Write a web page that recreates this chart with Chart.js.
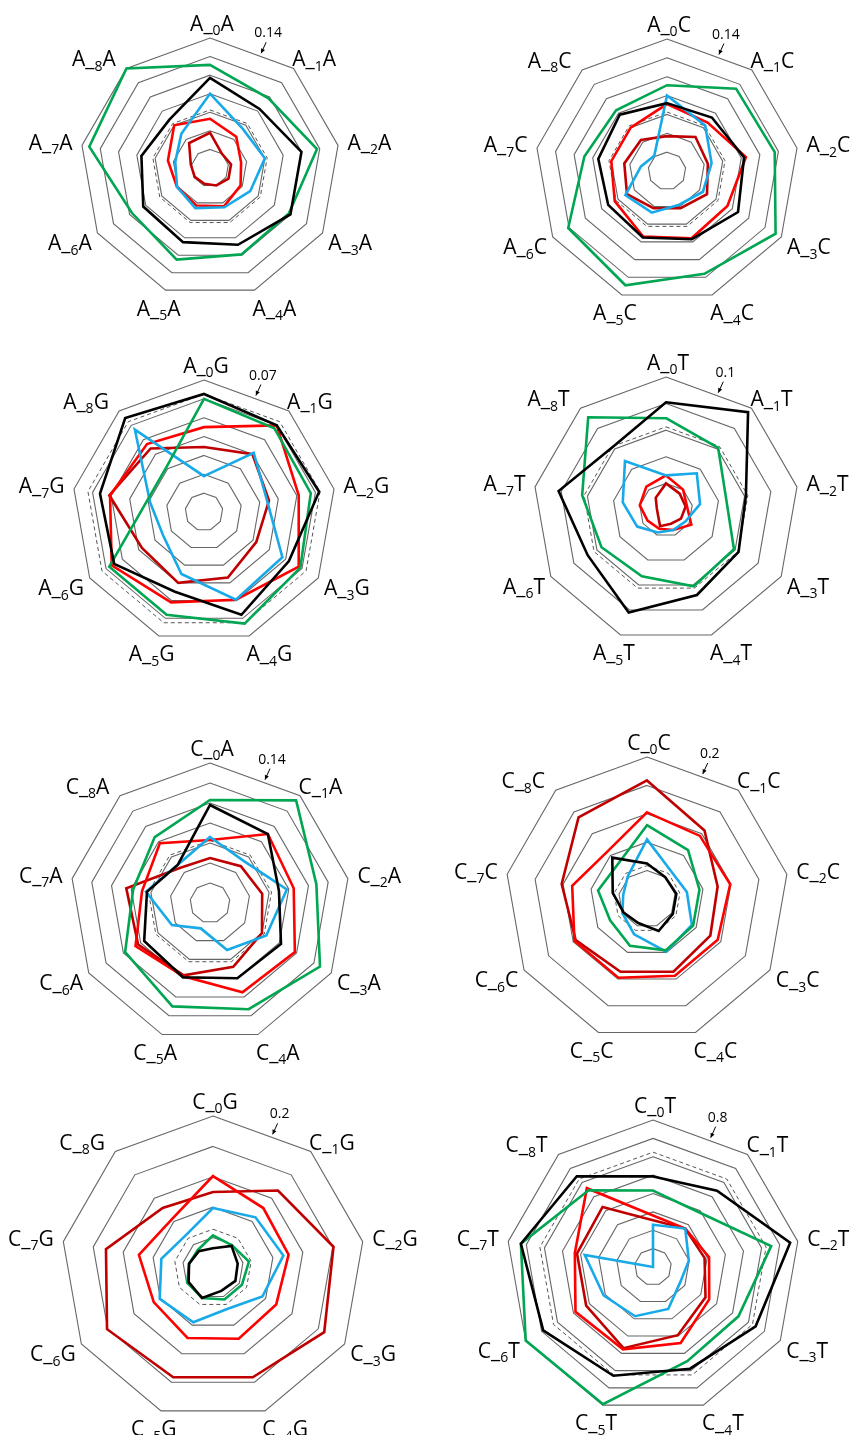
<!DOCTYPE html>
<html>
<head>
<meta charset="utf-8">
<script src="https://cdn.jsdelivr.net/npm/chart.js@4.4.1/dist/chart.umd.min.js"></script>
<style>
  html, body { margin: 0; padding: 0; background: #ffffff; overflow: hidden; }
  #wrap { position: relative; width: 860px; height: 1435px; overflow: hidden; background: #ffffff; }
  #wrap canvas { position: absolute; }
</style>
</head>
<body>
<div id="wrap"></div>
<script>
// Positions 0..8 around every radar
const positions = [0, 1, 2, 3, 4, 5, 6, 7, 8];
function axisLabels(first, second) {
  return positions.map(p => `${first}_${p}${second}`);
}

// ---- A_A ----
const AA_black   = [0.097, 0.083, 0.100, 0.100, 0.088, 0.085, 0.083, 0.075, 0.068];
const AA_green   = [0.111, 0.098, 0.117, 0.098, 0.099, 0.105, 0.097, 0.132, 0.140];
const AA_blue    = [0.080, 0.055, 0.060, 0.050, 0.045, 0.046, 0.041, 0.038, 0.048];
const AA_red     = [0.053, 0.044, 0.034, 0.038, 0.044, 0.043, 0.041, 0.046, 0.060];
const AA_darkred = [0.038, 0.020, 0.023, 0.023, 0.020, 0.018, 0.019, 0.021, 0.035];
const AA_ref = 0.0625;

// ---- A_C ----
const AC_black   = [0.072, 0.074, 0.083, 0.087, 0.077, 0.075, 0.072, 0.074, 0.078];
const AC_green   = [0.091, 0.114, 0.116, 0.133, 0.116, 0.129, 0.121, 0.089, 0.084];
const AC_blue    = [0.080, 0.063, 0.048, 0.044, 0.038, 0.047, 0.051, 0.028, 0.021];
const AC_red     = [0.071, 0.067, 0.085, 0.074, 0.076, 0.074, 0.064, 0.060, 0.060];
const AC_darkred = [0.037, 0.047, 0.044, 0.049, 0.042, 0.042, 0.049, 0.046, 0.043];
const AC_ref = 0.0625;

// ---- A_G ----
const AG_black   = [0.0626, 0.060, 0.062, 0.052, 0.058, 0.045, 0.055, 0.056, 0.065];
const AG_green   = [0.060, 0.058, 0.0575, 0.059, 0.063, 0.058, 0.058, 0.031, 0.031];
const AG_blue    = [0.019, 0.041, 0.034, 0.048, 0.0495, 0.035, 0.025, 0.029, 0.057];
const AG_red     = [0.045, 0.060, 0.051, 0.058, 0.0495, 0.051, 0.0565, 0.0506, 0.047];
const AG_darkred = [0.0345, 0.040, 0.035, 0.032, 0.037, 0.040, 0.038, 0.051, 0.044];
const AG_ref = 0.0625;

// ---- A_T ----
const AT_black   = [0.081, 0.096, 0.061, 0.063, 0.068, 0.082, 0.068, 0.082, 0.062];
const AT_green   = [0.069, 0.061, 0.046, 0.059, 0.061, 0.053, 0.056, 0.064, 0.091];
const AT_blue    = [0.026, 0.036, 0.026, 0.017, 0.016, 0.018, 0.025, 0.033, 0.048];
const AT_red     = [0.026, 0.020, 0.016, 0.022, 0.016, 0.015, 0.016, 0.020, 0.023];
const AT_darkred = [0.020, 0.016, 0.015, 0.013, 0.011, 0.013, 0.007, 0.007, 0.012];
const AT_ref = 0.0625;

// ---- C_A ----
const CA_black   = [0.098, 0.090, 0.070, 0.082, 0.080, 0.079, 0.076, 0.064, 0.050];
const CA_green   = [0.103, 0.134, 0.108, 0.127, 0.113, 0.110, 0.098, 0.078, 0.086];
const CA_blue    = [0.066, 0.054, 0.078, 0.065, 0.050, 0.027, 0.044, 0.065, 0.050];
const CA_red     = [0.063, 0.090, 0.085, 0.098, 0.095, 0.078, 0.086, 0.069, 0.078];
const CA_darkred = [0.045, 0.048, 0.053, 0.060, 0.068, 0.077, 0.083, 0.085, 0.046];
const CA_ref = 0.0625;

// ---- C_C ----
const CC_black   = [0.050, 0.040, 0.042, 0.042, 0.048, 0.036, 0.038, 0.049, 0.076];
const CC_green   = [0.104, 0.090, 0.075, 0.075, 0.077, 0.070, 0.060, 0.070, 0.064];
const CC_blue    = [0.084, 0.052, 0.057, 0.073, 0.079, 0.053, 0.040, 0.034, 0.042];
const CC_red     = [0.122, 0.116, 0.119, 0.115, 0.115, 0.118, 0.118, 0.107, 0.087];
const CC_darkred = [0.167, 0.126, 0.101, 0.103, 0.109, 0.109, 0.116, 0.122, 0.150];
const CC_ref = 0.047;

// ---- C_G ----
const CG_black   = [0.026, 0.038, 0.033, 0.034, 0.032, 0.042, 0.037, 0.032, 0.029];
const CG_green   = [0.043, 0.039, 0.048, 0.044, 0.044, 0.042, 0.039, 0.032, 0.031];
const CG_blue    = [0.079, 0.087, 0.094, 0.075, 0.057, 0.076, 0.081, 0.069, 0.056];
const CG_red     = [0.121, 0.103, 0.101, 0.096, 0.099, 0.098, 0.090, 0.099, 0.084];
const CG_darkred = [0.100, 0.133, 0.161, 0.169, 0.153, 0.153, 0.161, 0.143, 0.103];
const CG_ref = 0.051;

// ---- C_T ----
const CT_black   = [0.493, 0.542, 0.758, 0.645, 0.589, 0.630, 0.690, 0.730, 0.645];
const CT_green   = [0.416, 0.389, 0.653, 0.537, 0.545, 0.795, 0.800, 0.730, 0.545];
const CT_blue    = [0.230, 0.273, 0.198, 0.170, 0.243, 0.285, 0.310, 0.377, 0.000];
const CT_red     = [0.280, 0.273, 0.310, 0.353, 0.440, 0.477, 0.487, 0.432, 0.560];
const CT_darkred = [0.255, 0.273, 0.285, 0.330, 0.395, 0.470, 0.420, 0.420, 0.427];
const CT_ref = 0.625;

// Line colours, first entry drawn on top
const seriesColors = ['#000000', '#00a651', '#17a9e8', '#ff0000', '#c00000'];

// Panel layout: centre and outer radius in page pixels, axis maximum and ring step
const panels = [
  { labels: axisLabels('A', 'A'), max: 0.14, step: 0.02, ref: AA_ref, series: [AA_black, AA_green, AA_blue, AA_red, AA_darkred], cx: 210, cy: 168, r: 130 },
  { labels: axisLabels('A', 'C'), max: 0.14, step: 0.02, ref: AC_ref, series: [AC_black, AC_green, AC_blue, AC_red, AC_darkred], cx: 667, cy: 171, r: 132 },
  { labels: axisLabels('A', 'G'), max: 0.07, step: 0.01, ref: AG_ref, series: [AG_black, AG_green, AG_blue, AG_red, AG_darkred], cx: 204, cy: 512, r: 132 },
  { labels: axisLabels('A', 'T'), max: 0.1,  step: 0.02, ref: AT_ref, series: [AT_black, AT_green, AT_blue, AT_red, AT_darkred], cx: 666, cy: 510, r: 133 },
  { labels: axisLabels('C', 'A'), max: 0.14, step: 0.02, ref: CA_ref, series: [CA_black, CA_green, CA_blue, CA_red, CA_darkred], cx: 210, cy: 903, r: 140 },
  { labels: axisLabels('C', 'C'), max: 0.2,  step: 0.04, ref: CC_ref, series: [CC_black, CC_green, CC_blue, CC_red, CC_darkred], cx: 647, cy: 899, r: 142 },
  { labels: axisLabels('C', 'G'), max: 0.2,  step: 0.04, ref: CG_ref, series: [CG_black, CG_green, CG_blue, CG_red, CG_darkred], cx: 213, cy: 1268, r: 152 },
  { labels: axisLabels('C', 'T'), max: 0.8,  step: 0.1,  ref: CT_ref, series: [CT_black, CT_green, CT_blue, CT_red, CT_darkred], cx: 653, cy: 1267, r: 147 }
];

const CANVAS_W = 430, CANVAS_H = 370;
const LOCAL_CX = 215, LOCAL_CY = 185;

const LABEL_FONT = '21px "Open Sans", Lato, sans-serif';
const SUB_FONT = '14px "Open Sans", Lato, sans-serif';
const NOTE_FONT = '14px "Open Sans", Lato, sans-serif';
const LABEL_PAD = 10;
const LABEL_H = 18;
// small per-axis shifts of the category labels
const LABEL_NUDGE = [[2, 4], [0, 5], [0, 0], [0, 0], [9, 0], [4, 0], [0, 0], [0, 0], [-12, 5]];

// Draws the category labels (with subscript position digit) and the outer-ring value note
const decorations = {
  id: 'decorations',
  afterDraw(chart, args, opts) {
    const s = chart.scales.r;
    const ctx = chart.ctx;
    ctx.save();
    ctx.fillStyle = '#000000';
    ctx.textAlign = 'left';
    ctx.textBaseline = 'alphabetic';
    chart.data.labels.forEach((lab, i) => {
      const cut = lab.indexOf('_');
      const head = lab.slice(0, cut + 1);
      const sub = lab.charAt(cut + 1);
      const tail = lab.slice(cut + 2);
      ctx.font = LABEL_FONT;
      const w1 = ctx.measureText(head).width;
      const w3 = ctx.measureText(tail).width;
      ctx.font = SUB_FONT;
      const w2 = ctx.measureText(sub).width;
      const w = w1 + w2 + w3;
      const a = s.getIndexAngle(i);
      const sn = Math.sin(a), cs = Math.cos(a);
      const p = s.getPointPosition(i, s.drawingArea + LABEL_PAD);
      const mx = p.x + sn * w / 2 + LABEL_NUDGE[i][0];
      const my = p.y - cs * LABEL_H / 2 + LABEL_NUDGE[i][1];
      const base = my + 7.5;
      let x = mx - w / 2;
      ctx.font = LABEL_FONT; ctx.fillText(head, x, base); x += w1;
      ctx.font = SUB_FONT; ctx.fillText(sub, x, base + 4.5); x += w2;
      ctx.font = LABEL_FONT; ctx.fillText(tail, x, base);
    });

    // value of the outer ring with a small arrow pointing at it
    const v0 = s.getPointPosition(0, s.drawingArea);
    const v1 = s.getPointPosition(1, s.drawingArea);
    const ex = v0.x + 0.6 * (v1.x - v0.x);
    const ey = v0.y + 0.6 * (v1.y - v0.y);
    ctx.font = NOTE_FONT;
    ctx.textAlign = 'center';
    ctx.textBaseline = 'middle';
    ctx.fillText(opts.note, ex + 8, ey - 23);
    const x1 = ex + 6, y1 = ey - 14, x2 = ex + 1, y2 = ey - 3;
    ctx.strokeStyle = '#000000';
    ctx.lineWidth = 1;
    ctx.beginPath(); ctx.moveTo(x1, y1); ctx.lineTo(x2, y2); ctx.stroke();
    const ang = Math.atan2(y2 - y1, x2 - x1);
    const hl = 5, hw = 0.45;
    ctx.beginPath();
    ctx.moveTo(x2, y2);
    ctx.lineTo(x2 - hl * Math.cos(ang - hw), y2 - hl * Math.sin(ang - hw));
    ctx.lineTo(x2 - hl * Math.cos(ang + hw), y2 - hl * Math.sin(ang + hw));
    ctx.closePath();
    ctx.fill();
    ctx.restore();
  }
};

const wrap = document.getElementById('wrap');
panels.forEach(pn => {
  const cv = document.createElement('canvas');
  cv.width = CANVAS_W; cv.height = CANVAS_H;
  cv.style.width = CANVAS_W + 'px'; cv.style.height = CANVAS_H + 'px';
  cv.style.left = (pn.cx - LOCAL_CX) + 'px';
  cv.style.top = (pn.cy - LOCAL_CY) + 'px';
  wrap.appendChild(cv);

  const datasets = pn.series.map((vals, k) => ({
    data: vals,
    borderColor: seriesColors[k],
    borderWidth: 2.6,
    fill: false,
    pointRadius: 0,
    tension: 0
  }));
  datasets.push({
    data: positions.map(() => pn.ref),
    borderColor: '#555555',
    borderWidth: 1,
    borderDash: [4, 3],
    fill: false,
    pointRadius: 0,
    tension: 0
  });

  new Chart(cv, {
    type: 'radar',
    data: { labels: pn.labels, datasets },
    options: {
      responsive: false,
      animation: false,
      events: [],
      devicePixelRatio: 1,
      plugins: {
        legend: { display: false },
        tooltip: { enabled: false },
        decorations: { note: String(pn.max) }
      },
      scales: {
        r: {
          min: 0,
          max: pn.max,
          ticks: { display: false, stepSize: pn.step },
          grid: { color: '#666666', lineWidth: 1.1 },
          angleLines: { display: false },
          pointLabels: { display: false },
          afterFit(scale) {
            scale.xCenter = LOCAL_CX;
            scale.yCenter = LOCAL_CY;
            scale.drawingArea = pn.r;
          }
        }
      }
    },
    plugins: [decorations]
  });
});
</script>
</body>
</html>
